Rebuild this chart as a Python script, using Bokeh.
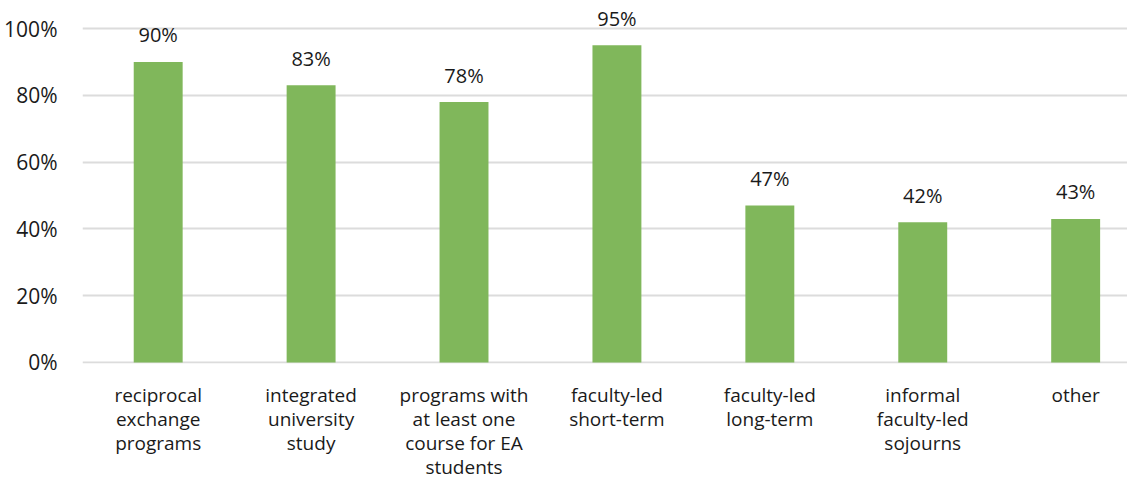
from bokeh.plotting import figure
from bokeh.models import Range1d, FixedTicker, ColumnDataSource
from bokeh.embed import file_html
from bokeh.resources import INLINE
from bokeh.core.properties import value

categories = [
    "reciprocal exchange programs",
    "integrated university study",
    "programs with at least one course for EA students",
    "faculty-led short-term",
    "faculty-led long-term",
    "informal faculty-led sojourns",
    "other",
]
tick_labels = [
    "reciprocal\nexchange\nprograms",
    "integrated\nuniversity\nstudy",
    "programs with\nat least one\ncourse for EA\nstudents",
    "faculty-led\nshort-term",
    "faculty-led\nlong-term",
    "informal\nfaculty-led\nsojourns",
    "other",
]
values = [90, 83, 78, 95, 47, 42, 43]
value_labels = ["90%", "83%", "78%", "95%", "47%", "42%", "43%"]
y_ticks = [0, 20, 40, 60, 80, 100]
y_tick_labels = ["0%", "20%", "40%", "60%", "80%", "100%"]

FONT = "Open Sans"
BAR = "#80B75B"
TXT = "#1a1a1a"

xs = [i + 0.5 for i in range(len(categories))]
src = ColumnDataSource(dict(x=xs, top=values, lab=value_labels, cat=categories))

p = figure(
    frame_width=1045, frame_height=355,
    x_range=Range1d(0.005, 6.839), y_range=Range1d(-0.3, 106),
    output_backend="svg", toolbar_location=None,
    min_border_left=82, min_border_right=0, min_border_top=8, min_border_bottom=10,
)
p.outline_line_color = None
p.background_fill_color = "white"
p.border_fill_color = "white"

p.vbar(x="x", top="top", bottom=0, width=0.32, source=src,
       fill_color=BAR, line_color=None)
p.text(x="x", y="top", text="lab", source=src, y_offset=-27,
       text_align="center", text_baseline="middle",
       text_font=value(FONT), text_font_size="20px", text_color=TXT)

p.xgrid.visible = False
p.ygrid.ticker = FixedTicker(ticks=y_ticks)
p.ygrid.grid_line_color = "#DCDCDC"
p.ygrid.grid_line_width = 2

p.yaxis.ticker = FixedTicker(ticks=y_ticks)
p.yaxis.major_label_overrides = {t: l for t, l in zip(y_ticks, y_tick_labels)}
p.xaxis.ticker = FixedTicker(ticks=xs)
p.xaxis.major_label_overrides = {x: l for x, l in zip(xs, tick_labels)}

for ax in (p.xaxis[0], p.yaxis[0]):
    ax.axis_line_color = None
    ax.major_tick_line_color = None
    ax.minor_tick_line_color = None
    ax.major_label_text_font = FONT
    ax.major_label_text_color = TXT

p.yaxis.major_label_text_font_size = "21px"
p.xaxis.major_label_text_font_size = "19px"
p.yaxis.major_label_standoff = 19
p.xaxis.major_label_standoff = 12
p.xaxis.major_label_text_line_height = 0.93
p.xaxis.major_label_text_align = "center"

open("out.html", "w").write(file_html(p, INLINE))
